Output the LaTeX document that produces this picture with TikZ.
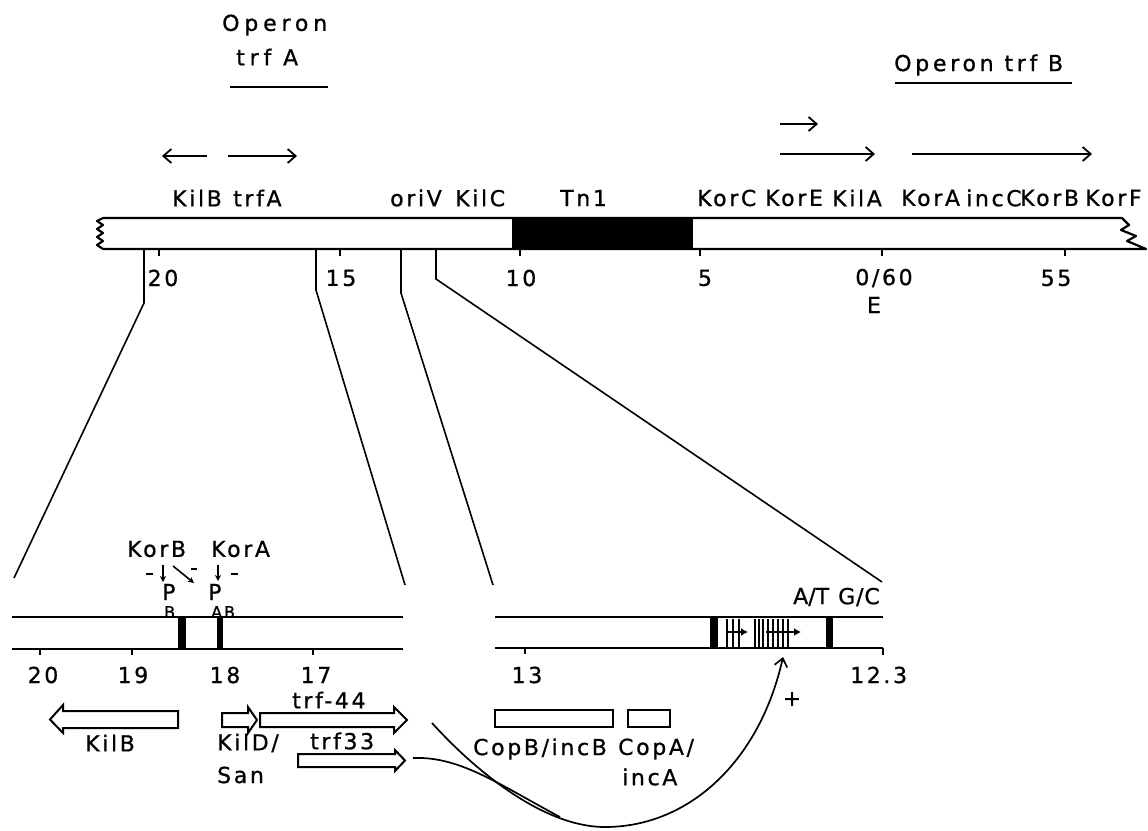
\documentclass[tikz,border=0pt]{standalone}
\usepackage{fontspec}
\setmainfont{DejaVu Sans}[LetterSpace=12,FakeBold=0.8]
\usetikzlibrary{arrows.meta}
\begin{document}
\begin{tikzpicture}[x=1pt,y=-1pt,
  lbl/.style={inner sep=0pt, font=\fontsize{22}{26}\selectfont},
  wl/.style={lbl, anchor=west},
  ttl/.style={wl, font=\fontsize{22}{26}\selectfont\addfontfeature{LetterSpace=22}},
  subs/.style={inner sep=0pt, anchor=west, font=\fontsize{16}{18}\selectfont},
  ln/.style={line width=2.2pt},
  zl/.style={line width=1.6pt},
  thinln/.style={line width=1.3pt},
  arr/.style={line width=1.8pt, -{Straight Barb[length=8pt,width=14pt]}},
  gene/.style={line width=2pt, draw, line join=miter},
]
\useasboundingbox (0,0) rectangle (1148,830);

% ---------- top titles ----------
\node[ttl] (opA) at (222,25) {Operon};
\node[ttl] (trfAt) at (236,57) {trf A};
\draw[ln] (230,87) -- (328,87);
\node[ttl, font=\fontsize{22}{26}\selectfont\addfontfeature{LetterSpace=17}] (opB) at (894,65) {Operon trf B};
\draw[ln] (895,83) -- (1072,83);

% ---------- transcription arrows ----------
\coordinate (a1s) at (207,156); \coordinate (a1e) at (162,156);
\coordinate (a2s) at (228,156); \coordinate (a2e) at (297,156);
\coordinate (a3s) at (780,124); \coordinate (a3e) at (818,124);
\coordinate (a4s) at (780,154); \coordinate (a4e) at (875,154);
\coordinate (a5s) at (912,154); \coordinate (a5e) at (1092,154);
\draw[arr] (a1s) -- (a1e);
\draw[arr] (a2s) -- (a2e);
\draw[arr] (a3s) -- (a3e);
\draw[arr] (a4s) -- (a4e);
\draw[arr] (a5s) -- (a5e);

% ---------- gene labels on top map ----------
\node[wl] (kilB) at (172,198) {KilB};
\node[wl] (trfA) at (233,198) {trfA};
\node[wl] (oriV) at (390,198) {oriV};
\node[wl] (kilC) at (455,198) {KilC};
\node[wl] (tn1) at (560,198) {Tn1};
\node[wl] (korC) at (697,198) {KorC};
\node[wl] (korE) at (765,198) {KorE};
\node[wl] (kilA) at (832,198) {KilA};
\node[wl] (korA) at (901,198) {KorA};
\node[wl] (incC) at (966,198) {incC};
\node[wl] (korB) at (1020,198) {KorB};
\node[wl] (korF) at (1085,198) {KorF};

% ---------- top map bar ----------
\draw[ln, line join=round] (103,218) -- (1122,218)
   -- (1129,225) -- (1121,230) -- (1136,236) -- (1127,241) -- (1146,249)
   -- (103,249);
\draw[ln, line join=round] (103,218) -- (97,221) -- (103,225) -- (97,229)
   -- (103,233) -- (97,237) -- (103,241) -- (97,245) -- (103,249);
\fill (512,218) rectangle (693,249);

% ticks
\foreach \t in {159,340,520,700,882,1065} \draw[ln] (\t,249) -- (\t,256);
\node[lbl] (n20) at (163,278) {20};
\node[lbl] (n15) at (341,278) {15};
\node[lbl] (n10) at (521,278) {10};
\node[lbl] (n5) at (705,278) {5};
\node[lbl] (n060) at (884,278) {0/60};
\node[lbl] (nE) at (874,305) {E};
\node[lbl] (n55) at (1056,278) {55};

% ---------- zoom lines ----------
\coordinate (z1a) at (144,249); \coordinate (z1b) at (144,303); \coordinate (z1c) at (14,578);
\coordinate (z2a) at (316,249); \coordinate (z2b) at (316,290); \coordinate (z2c) at (405,585);
\coordinate (z3a) at (401,249); \coordinate (z3b) at (401,293); \coordinate (z3c) at (493,585);
\coordinate (z4a) at (436,249); \coordinate (z4b) at (436,279); \coordinate (z4c) at (882,582);
\draw[zl] (z1a) -- (z1b) -- (z1c);
\draw[zl] (z2a) -- (z2b) -- (z2c);
\draw[zl] (z3a) -- (z3b) -- (z3c);
\draw[zl] (z4a) -- (z4b) -- (z4c);

% ---------- lower left bar ----------
\draw[ln] (12,617) -- (403,617);
\draw[ln] (12,649) -- (403,649);
\fill (178,617) rectangle (186,649);
\fill (217,617) rectangle (223,649);
\foreach \t in {40,132,313} \draw[ln] (\t,649) -- (\t,655);
\node[lbl] (l20) at (43,675) {20};
\node[lbl] (l19) at (133,675) {19};
\node[lbl] (l18) at (225,675) {18};
\node[lbl] (l17) at (316,675) {17};

\node[wl] (korBl) at (127,549) {KorB};
\node[wl] (korAl) at (211,549) {KorA};
\node[wl] (pB) at (162,592) {P};
\node[subs] (pBs) at (164,612) {B};
\node[wl] (pAB) at (208,592) {P};
\node[subs] (pABs) at (211,612) {AB};
\draw[line width=1.6pt] (146,574) -- (153,574);
\draw[line width=1.6pt, -{Stealth[length=6pt,width=6pt]}] (163,565) -- (163,582);
\draw[line width=1.6pt, -{Stealth[length=6pt,width=6pt]}] (173,566) -- (194,583);
\draw[line width=1.6pt] (191,569) -- (197,569);
\draw[line width=1.6pt, -{Stealth[length=6pt,width=6pt]}] (218,565) -- (218,581);
\draw[line width=1.6pt] (231,574) -- (238,574);

% ---------- lower right bar ----------
\draw[ln] (495,617) -- (883,617);
\draw[ln] (495,648) -- (883,648);
\draw[ln] (883,648) -- (883,655);
\draw[ln] (525,648) -- (525,654);
\fill (710,617) rectangle (718,648);
\fill (826,617) rectangle (833,648);
\foreach \t in {727,733,739} \draw[thinln] (\t,619) -- (\t,648);
\draw[thinln, -{Latex[length=7pt,width=8pt]}] (726,632) -- (748,632);
\foreach \t in {755,759,763,768,773,778,783,788} \draw[thinln] (\t,619) -- (\t,648);
\draw[thinln, -{Latex[length=7pt,width=8pt]}] (766,632) -- (801,632);
\node[wl, font=\fontsize{22}{26}\selectfont\addfontfeature{LetterSpace=0}] (at) at (793,597) {A/T};
\node[wl, font=\fontsize{22}{26}\selectfont\addfontfeature{LetterSpace=4}] (gc) at (838,597) {G/C};
\node[lbl] (r13) at (527,675) {13};
\node[wl] (r123) at (850,675) {12.3};

% ---------- genes ----------
\draw[gene] (178,711) -- (63,711) -- (63,705) -- (50,719.5) -- (63,733) -- (63,728) -- (178,728) -- cycle;
\draw[gene] (222,713) -- (248,713) -- (248,707) -- (257,720) -- (248,733) -- (248,727) -- (222,727) -- cycle;
\draw[gene] (260,713) -- (394,713) -- (394,707) -- (407,720) -- (394,733) -- (394,727) -- (260,727) -- cycle;
\draw[gene] (298,754) -- (395,754) -- (395,750) -- (405,760.5) -- (395,771) -- (395,767) -- (298,767) -- cycle;
\draw[gene] (495,710) rectangle (613,727);
\draw[gene] (628,710) rectangle (670,727);

\node[wl] (gKilB) at (85,743) {KilB};
\node[wl] (gKilD) at (217,743) {KilD/};
\node[wl] (gSan) at (217,775) {San};
\node[wl] (g44) at (292,700) {trf-44};
\node[wl] (g33) at (310,741) {trf33};
\node[wl] (gCopB) at (473,749) {CopB/incB};
\node[wl] (gCopA) at (618,749) {CopA/};
\node[wl] (gincA) at (622,777) {incA};
\node[lbl] (plus) at (792,699) {+};

% ---------- curves ----------
\coordinate (c44) at (432,723);
\coordinate (c33) at (413,758);
\coordinate (tip) at (783,657);
\draw[line width=1.7pt, -{Straight Barb[length=8pt,width=13pt]}] (c44) .. controls (470,765) and (540,827) .. (605,827) .. controls (690,827) and (760,760) .. (tip);
\draw[line width=1.7pt] (c33) .. controls (460,756) and (500,785) .. (560,817);
\end{tikzpicture}
\end{document}
